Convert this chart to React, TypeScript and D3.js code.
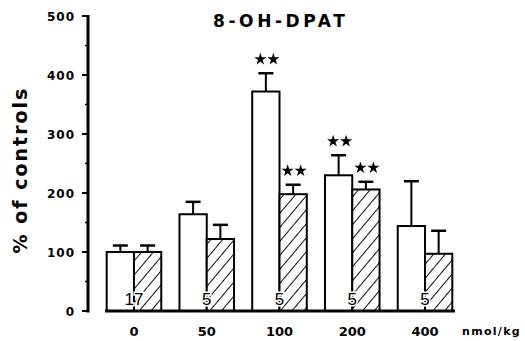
import React, { useEffect, useRef } from 'react'
import * as d3 from 'd3'

const doses = ['0', '50', '100', '200', '400']
const openValues = [100, 164, 372, 230, 144]
const openErrors = [11, 21, 31, 34, 76]
const hatchValues = [100, 122, 198, 206, 97]
const hatchErrors = [11, 24, 16, 13, 39]
// number of significance stars above each bar
const openStars = [0, 0, 2, 2, 0]
const hatchStars = [0, 0, 2, 2, 0]
const nLabels = ['17', '5', '5', '5', '5']
const yTicks = [0, 100, 200, 300, 400, 500]
const yMinor = [50, 150, 250, 350, 450]

function App() {
  const ref = useRef(null)

  useEffect(() => {
    drawChart(ref.current)
  }, [])

  return (
    <svg
      ref={ref}
      width={525}
      height={341}
      style={{ position: 'absolute', left: 0, top: 0, background: '#fff' }}
    />
  )
}

function drawChart(node) {
  const svg = d3.select(node)
  svg.selectAll('*').remove()

  const font = "'DejaVu Sans', sans-serif"

  const x = d3.scaleBand().domain(doses).range([106.7, 452.3]).paddingInner(0.25).paddingOuter(0)
  const sub = d3.scaleBand().domain(['open', 'hatch']).range([0, x.bandwidth()]).padding(0)
  const y = d3.scaleLinear().domain([0, 500]).range([311, 16])

  // hatch pattern
  const defs = svg.append('defs')
  const pat = defs.append('pattern')
    .attr('id', 'hatch')
    .attr('patternUnits', 'userSpaceOnUse')
    .attr('width', 9)
    .attr('height', 9)
    .attr('patternTransform', 'rotate(40)')
  pat.append('rect').attr('width', 9).attr('height', 9).attr('fill', '#fff')
  pat.append('line')
    .attr('x1', 0).attr('y1', 0).attr('x2', 0).attr('y2', 9)
    .attr('stroke', '#000').attr('stroke-width', 1.9)

  const rows = doses.map((d, i) => ([
    { dose: d, key: 'open', v: openValues[i], e: openErrors[i], stars: openStars[i] },
    { dose: d, key: 'hatch', v: hatchValues[i], e: hatchErrors[i], stars: hatchStars[i] }
  ])).flat()

  const g = svg.append('g')

  // bars
  g.selectAll('rect.bar')
    .data(rows)
    .enter()
    .append('rect')
    .attr('class', 'bar')
    .attr('x', d => x(d.dose) + sub(d.key))
    .attr('y', d => y(d.v))
    .attr('width', sub.bandwidth())
    .attr('height', d => y(0) - y(d.v))
    .attr('fill', d => d.key === 'open' ? '#fff' : 'url(#hatch)')
    .attr('stroke', '#000')
    .attr('stroke-width', 2)

  // error bars
  const cx = d => x(d.dose) + sub(d.key) + sub.bandwidth() / 2
  g.selectAll('line.err')
    .data(rows)
    .enter()
    .append('line')
    .attr('x1', cx).attr('x2', cx)
    .attr('y1', d => y(d.v)).attr('y2', d => y(d.v + d.e))
    .attr('stroke', '#000').attr('stroke-width', 2)
  g.selectAll('line.cap')
    .data(rows)
    .enter()
    .append('line')
    .attr('x1', d => cx(d) - 7.5).attr('x2', d => cx(d) + 7.5)
    .attr('y1', d => y(d.v + d.e)).attr('y2', d => y(d.v + d.e))
    .attr('stroke', '#000').attr('stroke-width', 2.5)

  // significance stars
  const star = d3.symbol().type(d3.symbolStar).size(46)()
  const starMarks = rows.filter(d => d.stars > 0)
    .flatMap(d => d3.range(d.stars).map(k => ({
      x: cx(d) + 1 + (k - (d.stars - 1) / 2) * 13,
      y: y(d.v + d.e) - 14
    })))
  g.selectAll('path.star')
    .data(starMarks)
    .enter()
    .append('path')
    .attr('d', star)
    .attr('transform', d => `translate(${d.x},${d.y})`)
    .attr('fill', '#000')

  // n per group
  g.selectAll('text.n')
    .data(doses)
    .enter()
    .append('text')
    .attr('x', d => x(d) + x.bandwidth() / 2)
    .attr('y', 305)
    .attr('text-anchor', 'middle')
    .attr('font-family', "'Liberation Sans', Arial, sans-serif")
    .attr('font-size', 17)
    .attr('stroke', '#fff')
    .attr('stroke-width', 3)
    .attr('paint-order', 'stroke')
    .text((d, i) => nLabels[i])

  // baseline
  svg.append('line')
    .attr('x1', 105).attr('x2', 455)
    .attr('y1', y(0)).attr('y2', y(0))
    .attr('stroke', '#000').attr('stroke-width', 3)

  // y axis
  const ax = 88
  svg.append('line')
    .attr('x1', ax).attr('x2', ax)
    .attr('y1', y(500) - 1).attr('y2', y(0) + 1.5)
    .attr('stroke', '#000').attr('stroke-width', 3)
  svg.selectAll('line.ytick')
    .data(yTicks)
    .enter()
    .append('line')
    .attr('x1', ax - 6).attr('x2', ax)
    .attr('y1', d => y(d)).attr('y2', d => y(d))
    .attr('stroke', '#000').attr('stroke-width', 2)
  svg.selectAll('line.yminor')
    .data(yMinor)
    .enter()
    .append('line')
    .attr('x1', ax - 3).attr('x2', ax)
    .attr('y1', d => y(d)).attr('y2', d => y(d))
    .attr('stroke', '#000').attr('stroke-width', 1.5)
  svg.selectAll('text.ytick')
    .data(yTicks)
    .enter()
    .append('text')
    .attr('x', 75)
    .attr('y', d => y(d) + 4.5)
    .attr('text-anchor', 'end')
    .attr('font-family', font)
    .attr('font-weight', 'bold')
    .attr('font-size', 12)
    .attr('letter-spacing', 1)
    .text(d => d)

  // x labels
  svg.selectAll('text.xtick')
    .data(doses)
    .enter()
    .append('text')
    .attr('x', d => x(d) + x.bandwidth() / 2)
    .attr('y', 336)
    .attr('text-anchor', 'middle')
    .attr('font-family', font)
    .attr('font-weight', 'bold')
    .attr('font-size', 13)
    .text(d => d)
  svg.append('text')
    .attr('x', 462)
    .attr('y', 335)
    .attr('font-family', font)
    .attr('font-weight', 'bold')
    .attr('font-size', 11)
    .attr('letter-spacing', 1.3)
    .text('nmol/kg')

  // title
  svg.append('text')
    .attr('x', 213)
    .attr('y', 27)
    .attr('font-family', font)
    .attr('font-weight', 'bold')
    .attr('font-size', 17)
    .attr('letter-spacing', 3.6)
    .text('8-OH-DPAT')

  // y label
  svg.append('text')
    .attr('transform', 'translate(27,170) rotate(-90)')
    .attr('text-anchor', 'middle')
    .attr('font-family', font)
    .attr('font-weight', 'bold')
    .attr('font-size', 19)
    .attr('letter-spacing', 2)
    .text('% of controls')
}

export default App
